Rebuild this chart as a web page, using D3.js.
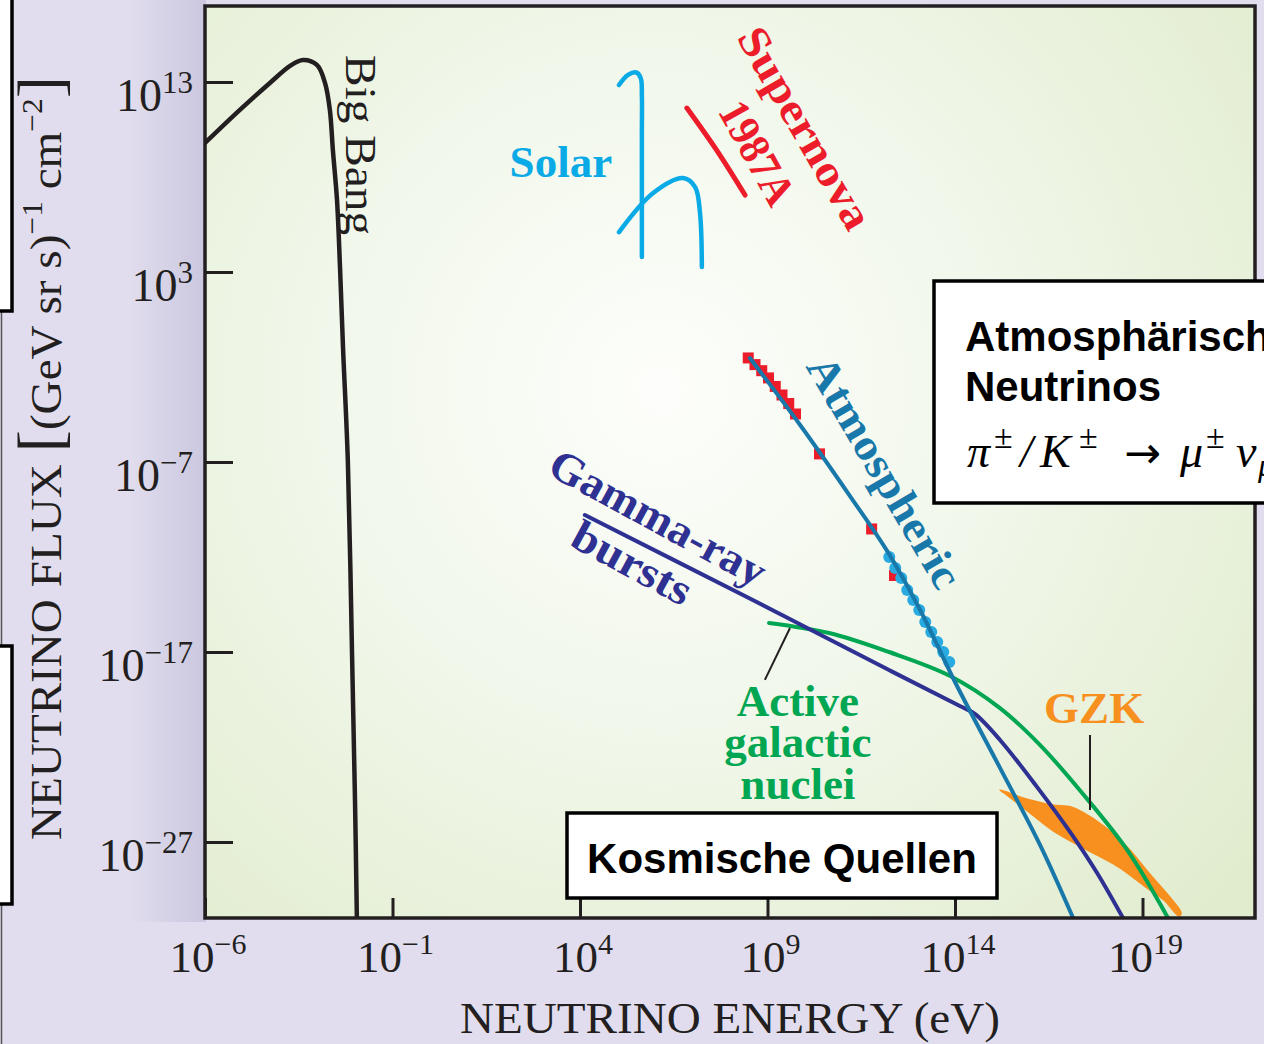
<!DOCTYPE html>
<html><head><meta charset="utf-8">
<script src="https://cdn.jsdelivr.net/npm/d3@7"></script>
<style>html,body{margin:0;padding:0;background:#e1ddee;overflow:hidden}</style>
</head><body>
<svg id="c" width="1264" height="1044"></svg>
<script>
// ---- data (log10 energy [eV], log10 flux) ----
const xTicks = [-6, -1, 4, 9, 14, 19];
const yTicks = [13, 3, -7, -17, -27];
const bigBang = [[-6,9.79],[-5.07,11.53],[-4.27,12.95],[-3.73,13.85],[-3.39,14.16],[-3.01,13.89],[-2.80,12.95],[-2.67,11.53],[-2.59,9.42],[-2.48,6.79],[-2.40,3.26],[-2.32,-0.95],[-2.19,-7],[-2.08,-17],[-2.0,-24.8],[-1.95,-31]];
const solarPP = [[5.04,12.84],[5.28,13.37],[5.50,13.5],[5.62,13.2],[5.65,12.3],[5.65,10.3],[5.65,3.79]];
const solarB8 = [[5.04,5.1],[5.95,7.16],[6.75,7.95],[7.07,7.47],[7.2,6.1],[7.25,3.26]];
const supernova = [[6.85,11.63],[7.63,9.45],[8.4,7.05]];
const atmospheric = [[8.53,-1.53],[9.87,-5.05],[11.2,-8.79],[12.19,-11.68],[13.07,-14.79],[14.0,-18.58],[15.2,-23.1],[16.27,-27.16],[17.15,-31]];
const atmSquares = [[8.5,-1.55],[8.68,-1.9],[8.86,-2.22],[9.04,-2.6],[9.22,-3.05],[9.4,-3.5],[9.58,-3.95],[9.76,-4.5],[10.4,-6.6],[11.79,-10.55],[12.4,-13.0]];
const atmDots = [[12.22,-12.0],[12.38,-12.58],[12.54,-13.1],[12.7,-13.74],[12.86,-14.26],[13.02,-14.79],[13.18,-15.42],[13.34,-15.95],[13.5,-16.47],[13.66,-17.0],[13.82,-17.53]];
const grb = [[4.13,-9.79],[8.45,-14.11],[12.24,-17.95],[14.13,-19.84],[14.53,-20.26],[15.2,-21.63],[16.19,-24.11],[17.09,-26.53],[17.79,-28.63],[18.48,-31]];
const agn = [[9.04,-15.47],[10.64,-16.0],[12.24,-17.0],[13.87,-18.26],[15.2,-19.95],[16.27,-21.9],[17.39,-24.42],[18.59,-27.42],[19.68,-31]];
const gzk = [[15.2,-24.26],[15.81,-24.68],[16.59,-25.05],[17.09,-25.16],[17.39,-25.42],[18.0,-26.21],[18.59,-27.26],[19.17,-28.63],[19.79,-30.05],[20.03,-30.74],[19.97,-30.89],[19.57,-30.05],[19.09,-29.37],[18.37,-28.32],[17.89,-27.79],[17.28,-27.16],[16.59,-26.37],[16.0,-25.47],[15.31,-24.42]];
const agnPointer = [[9.6,-15.74],[8.93,-18.47]];
const gzkPointer = [[17.6,-21.37],[17.6,-25.32]];

const W = 1264, H = 1044;
const PL = 205, PR = 1255, PT = 6, PB = 918;
const x = d3.scaleLinear().domain([-6, 22]).range([PL, PR]);
const y = d3.scaleLinear().domain([-31, 17]).range([PB, PT]);

const svg = d3.select("#c");
const defs = svg.append("defs");
const SERIF = "'Liberation Serif','Times New Roman',serif";
const SANS = "'Liberation Sans',Arial,sans-serif";

// background
svg.append("rect").attr("width", W).attr("height", H).attr("fill", "#e1ddee");
const lg = defs.append("linearGradient").attr("id", "shade").attr("x1", 0).attr("x2", 1).attr("y1", 0).attr("y2", 0);
lg.append("stop").attr("offset", 0).attr("stop-color", "#e1ddee");
lg.append("stop").attr("offset", 1).attr("stop-color", "#cac7df");
svg.append("rect").attr("x", 130).attr("y", 0).attr("width", 76).attr("height", 922).attr("fill", "url(#shade)");

const rg = defs.append("radialGradient").attr("id", "plotbg").attr("gradientUnits", "userSpaceOnUse")
  .attr("cx", 660).attr("cy", 390).attr("r", 760);
rg.append("stop").attr("offset", 0).attr("stop-color", "#fdfefb");
rg.append("stop").attr("offset", 0.45).attr("stop-color", "#f1f7ea");
rg.append("stop").attr("offset", 1).attr("stop-color", "#e1ecce");
svg.append("rect").attr("x", PL).attr("y", PT).attr("width", PR - PL).attr("height", PB - PT).attr("fill", "url(#plotbg)");

defs.append("clipPath").attr("id", "clip").append("rect")
  .attr("x", PL).attr("y", PT).attr("width", PR - PL).attr("height", PB - PT);

const g = svg.append("g").attr("clip-path", "url(#clip)");
const line = d3.line().x(d => x(d[0])).y(d => y(d[1])).curve(d3.curveCatmullRom.alpha(0.5));
const straight = d3.line().x(d => x(d[0])).y(d => y(d[1]));

// GZK band
g.append("path").attr("d", d3.line().x(d => x(d[0])).y(d => y(d[1])).curve(d3.curveCatmullRomClosed.alpha(0.5))(gzk))
  .attr("fill", "#f7901e").attr("stroke", "#f7901e").attr("stroke-width", 1.5);

function curve(data, color, w) {
  g.append("path").attr("d", line(data)).attr("fill", "none").attr("stroke", color)
    .attr("stroke-width", w).attr("stroke-linecap", "round").attr("stroke-linejoin", "round");
}
curve(bigBang, "#231f20", 4.5);
curve(solarPP, "#0aaae6", 4.5);
curve(solarB8, "#0aaae6", 4.5);
curve(supernova, "#ec1c2a", 5);

// atmospheric data markers
g.selectAll("rect.sq").data(atmSquares).join("rect").attr("class", "sq")
  .attr("x", d => x(d[0]) - 6).attr("y", d => y(d[1]) - 6).attr("width", 11).attr("height", 11).attr("fill", "#ec1c2a");
g.selectAll("circle.dot").data(atmDots).join("circle").attr("class", "dot")
  .attr("cx", d => x(d[0]) + 1).attr("cy", d => y(d[1])).attr("r", 6).attr("fill", "#29abe2");

curve(agn, "#00a651", 4);
curve(grb, "#2e3192", 4);
curve(atmospheric, "#1878aa", 4);

// pointers
g.append("path").attr("d", straight(agnPointer)).attr("stroke", "#231f20").attr("stroke-width", 2);
g.append("path").attr("d", straight(gzkPointer)).attr("stroke", "#231f20").attr("stroke-width", 2);

// axes ticks
const gx = svg.append("g").attr("transform", `translate(0,${PB})`)
  .call(d3.axisBottom(x).tickValues(xTicks).tickSizeInner(-20).tickSizeOuter(0).tickFormat(""));
gx.select(".domain").remove();
gx.selectAll("line").attr("stroke", "#231f20").attr("stroke-width", 3);
const gy = svg.append("g").attr("transform", `translate(${PL},0)`)
  .call(d3.axisLeft(y).tickValues(yTicks).tickSizeInner(-28).tickSizeOuter(0).tickFormat(""));
gy.select(".domain").remove();
gy.selectAll("line").attr("stroke", "#231f20").attr("stroke-width", 3);

// frame
svg.append("rect").attr("x", PL).attr("y", PT).attr("width", PR - PL).attr("height", PB - PT)
  .attr("fill", "none").attr("stroke", "#231f20").attr("stroke-width", 3.5);

// tick labels
function pow10(sel, e, base, sup) {
  sel.append("tspan").text("10").attr("font-size", base);
  sel.append("tspan").text(e < 0 ? "\u2212" + (-e) : String(e)).attr("font-size", sup).attr("dy", -base * 0.4);
}
svg.append("g").selectAll("text").data(xTicks).join("text")
  .attr("x", d => x(d) + 3).attr("y", 972).attr("text-anchor", "middle")
  .attr("font-family", SERIF).attr("fill", "#231f20")
  .each(function (d) { pow10(d3.select(this), d, 45, 30); });
svg.append("g").selectAll("text").data(yTicks).join("text")
  .attr("x", 193).attr("y", d => y(d) + 29).attr("text-anchor", "end")
  .attr("font-family", SERIF).attr("fill", "#231f20")
  .each(function (d) { pow10(d3.select(this), d, 46, 31); });

// axis titles
svg.append("text").attr("x", 730).attr("y", 1033).attr("text-anchor", "middle")
  .attr("font-family", SERIF).attr("font-size", 45).attr("fill", "#231f20")
  .attr("textLength", 540).attr("lengthAdjust", "spacingAndGlyphs")
  .text("NEUTRINO ENERGY (eV)");
const yt = svg.append("text").attr("transform", "translate(61,458) rotate(-90)").attr("text-anchor", "middle")
  .attr("font-family", SERIF).attr("font-size", 45).attr("fill", "#231f20")
  .attr("textLength", 764).attr("lengthAdjust", "spacingAndGlyphs");
yt.append("tspan").text("NEUTRINO FLUX ");
yt.append("tspan").text("[").attr("font-size", 64);
yt.append("tspan").text("(GeV sr s)");
yt.append("tspan").text("\u22121").attr("font-size", 30).attr("dy", -19);
yt.append("tspan").text(" cm").attr("dy", 19);
yt.append("tspan").text("\u22122").attr("font-size", 30).attr("dy", -19);
yt.append("tspan").text("]").attr("font-size", 64).attr("dy", 19);

// series labels
function rlabel(e, f, rot, txt, color, size, weight, len) {
  const t = svg.append("text").attr("transform", `translate(${x(e)},${y(f)}) rotate(${rot})`)
    .attr("text-anchor", "middle").attr("dominant-baseline", "central")
    .attr("font-family", SERIF).attr("font-size", size).attr("font-weight", weight).attr("fill", color).text(txt);
  if (len) t.attr("textLength", len).attr("lengthAdjust", "spacingAndGlyphs");
}
function hlabel(e, f, txt, color, size) {
  svg.append("text").attr("x", x(e)).attr("y", y(f)).attr("text-anchor", "middle")
    .attr("font-family", SERIF).attr("font-size", size).attr("font-weight", "bold").attr("fill", color).text(txt);
}
rlabel(-1.84, 9.68, 90, "Big Bang", "#231f20", 45, "normal", 180);
hlabel(3.49, 8.0, "Solar", "#0aaae6", 45);
rlabel(10.0, 10.58, 60, "Supernova", "#ec1c2a", 44, "bold", 226);
rlabel(8.72, 9.26, 61, "1987A", "#ec1c2a", 44, "bold", 112);
rlabel(12.11, -7.53, 59.5, "Atmospheric", "#1878aa", 44, "bold", 262);
rlabel(6.08, -9.95, 28.5, "Gamma-ray", "#2e3192", 44, "bold", 240);
rlabel(5.39, -12.32, 28.5, "bursts", "#2e3192", 44, "bold", 130);
hlabel(9.81, -20.37, "Active", "#00a651", 45);
hlabel(9.81, -22.53, "galactic", "#00a651", 45);
hlabel(9.81, -24.74, "nuclei", "#00a651", 45);
hlabel(17.71, -20.74, "GZK", "#f7901e", 45);

// overlay boxes
svg.append("rect").attr("x", 934).attr("y", 281).attr("width", 420).attr("height", 222)
  .attr("fill", "#fff").attr("stroke", "#000").attr("stroke-width", 3.5);
svg.append("text").attr("x", 965).attr("y", 351).attr("font-family", SANS).attr("font-weight", "bold")
  .attr("font-size", 42).attr("fill", "#000").text("Atmosphärische");
svg.append("text").attr("x", 965).attr("y", 401).attr("font-family", SANS).attr("font-weight", "bold")
  .attr("font-size", 42).attr("fill", "#000").text("Neutrinos");
const m = svg.append("text").attr("y", 467).attr("font-family", SERIF).attr("font-size", 46).attr("fill", "#000");
m.append("tspan").attr("x", 967).text("π").attr("font-style", "italic");
m.append("tspan").attr("x", 994).attr("y", 448).text("±").attr("font-size", 34);
m.append("tspan").attr("x", 1020).attr("y", 467).text("/").attr("font-style", "italic");
m.append("tspan").attr("x", 1040).attr("y", 467).text("K").attr("font-style", "italic");
m.append("tspan").attr("x", 1079).attr("y", 448).text("±").attr("font-size", 34);
m.append("tspan").attr("x", 1124).attr("y", 468).text("→").attr("font-family", "'DejaVu Sans',sans-serif").attr("font-size", 44);
m.append("tspan").attr("x", 1180).attr("y", 467).text("μ").attr("font-style", "italic");
m.append("tspan").attr("x", 1206).attr("y", 448).text("±").attr("font-size", 34);
m.append("tspan").attr("x", 1236).attr("y", 467).text("ν").attr("font-style", "italic");
m.append("tspan").attr("x", 1258).attr("y", 476).text("μ").attr("font-style", "italic").attr("font-size", 32);

svg.append("rect").attr("x", 567).attr("y", 813).attr("width", 430).attr("height", 85)
  .attr("fill", "#fff").attr("stroke", "#000").attr("stroke-width", 3.5);
svg.append("text").attr("x", 782).attr("y", 873).attr("text-anchor", "middle").attr("font-family", SANS)
  .attr("font-weight", "bold").attr("font-size", 42).attr("fill", "#000").text("Kosmische Quellen");

// left edge fragments
svg.append("line").attr("x1", 1.5).attr("x2", 1.5).attr("y1", 0).attr("y2", H).attr("stroke", "#555").attr("stroke-width", 1.5);
svg.append("rect").attr("x", -5).attr("y", -5).attr("width", 17).attr("height", 316)
  .attr("fill", "#fff").attr("stroke", "#000").attr("stroke-width", 3.5);
svg.append("rect").attr("x", -5).attr("y", 646).attr("width", 17).attr("height", 258)
  .attr("fill", "#fff").attr("stroke", "#000").attr("stroke-width", 3.5);
</script>
</body></html>
